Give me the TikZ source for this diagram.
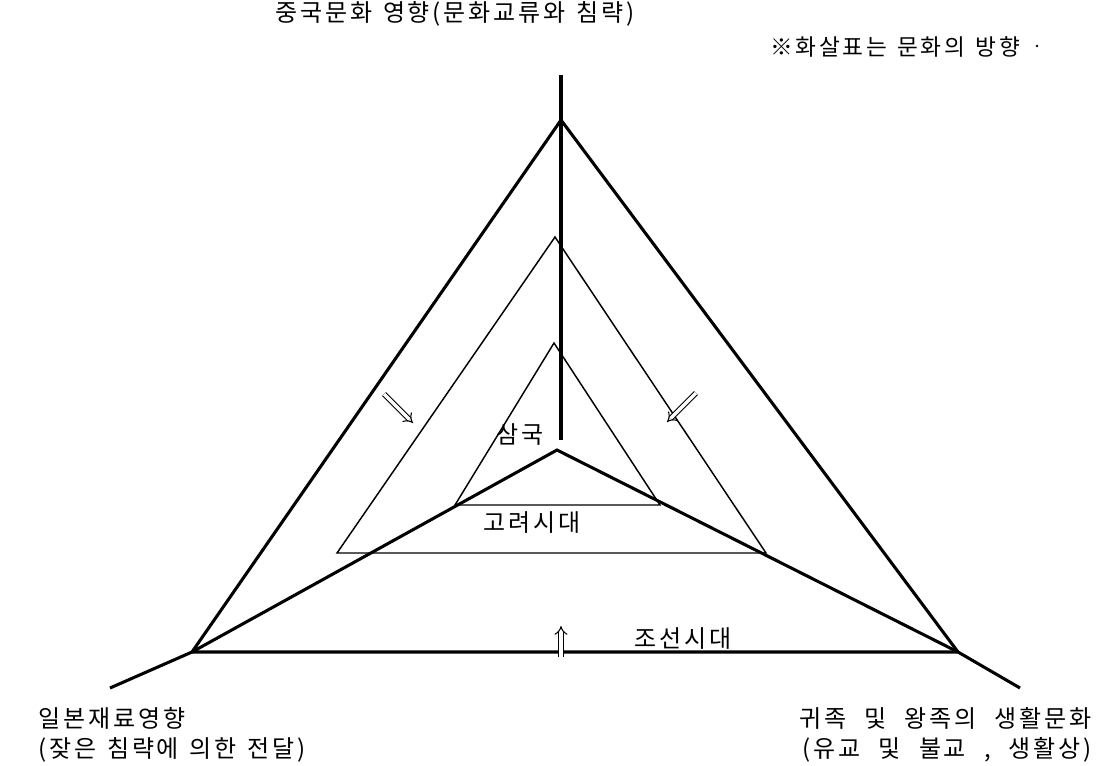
\documentclass[tikz,border=0pt]{standalone}
\usepackage{fontspec}
\setmainfont{Noto Sans CJK KR}[LetterSpace=12]
\usetikzlibrary{arrows.meta}
\newcommand{\wsp}{\hspace{0.45em}}
\newcommand{\wwsp}{\hspace{0.75em}}
\tikzset{
  thickline/.style={line width=2.3pt, line join=miter},
  thinline/.style={line width=1.1pt, line join=miter},
  dblarrow/.style={double, double distance=2.6pt, line width=0.8pt, -{Implies[length=6pt]}},
  lbl/.style={inner sep=0pt, font=\fontsize{18}{20}\selectfont},
  smalllbl/.style={inner sep=0pt, font=\fontsize{17}{19}\selectfont}
}
\begin{document}
\begin{tikzpicture}[x=0.75pt, y=-0.75pt]
\useasboundingbox (0,0) rectangle (1110,765);
% coordinates
\coordinate (vtop) at (561,75);
\coordinate (vbot) at (561,440);
\coordinate (A) at (561,120);
\coordinate (BL) at (192,652);
\coordinate (BR) at (958,652);
\coordinate (C) at (557,450);
\coordinate (LE) at (110,688);
\coordinate (RE) at (1020,688);
\coordinate (MA) at (555,237);
\coordinate (ML) at (337,553);
\coordinate (MR) at (766,553);
\coordinate (SA) at (554,343);
\coordinate (SL) at (455,505);
\coordinate (SR) at (660,505);
\coordinate (a1s) at (384,394);
\coordinate (a1e) at (413,423);
\coordinate (a2s) at (696,393);
\coordinate (a2e) at (667,422);
\coordinate (a3s) at (561,657);
\coordinate (a3e) at (561,626);
% axis
\draw[thickline] (vtop) -- (vbot);
% big triangle
\draw[thickline] (A) -- (BR) -- (BL) -- cycle;
% spokes
\draw[thickline] (LE) -- (BL) -- (C) -- (BR) -- (RE);
% middle & small triangles
\draw[thinline] (MA) -- (MR) -- (ML) -- cycle;
\draw[thinline] (SA) -- (SR) -- (SL) -- cycle;
% arrows
\draw[dblarrow] (a1s) -- (a1e);
\draw[dblarrow] (a2s) -- (a2e);
\draw[dblarrow] (a3s) -- (a3e);
% labels
\node[lbl] (top) at (455,14) {중국문화\wsp 영향(문화교류와\wsp 침략)};
\node[smalllbl] (note) at (895,47) {※화살표는\wsp 문화의\wsp 방향};
\node[lbl] (sam) at (520,435) {삼국};
\node[lbl] (go) at (532,523) {고려시대};
\node[lbl] (jo) at (683,639) {조선시대};
\node[lbl, anchor=west] (jp1) at (38,718) {일본재료영향};
\node[lbl, anchor=west] (jp2) at (38,750) {(잦은\wsp 침략에\wsp 의한\wsp 전달)};
\node[lbl, anchor=east] (ro1) at (1092,718) {귀족\wwsp 및\wwsp 왕족의\wwsp 생활문화};
\node[lbl, anchor=east] (ro2) at (1092,750) {(유교\wwsp 및\wwsp 불교\wwsp ,\wwsp 생활상)};
\fill (1037,46) circle (1.3);
\end{tikzpicture}
\end{document}
